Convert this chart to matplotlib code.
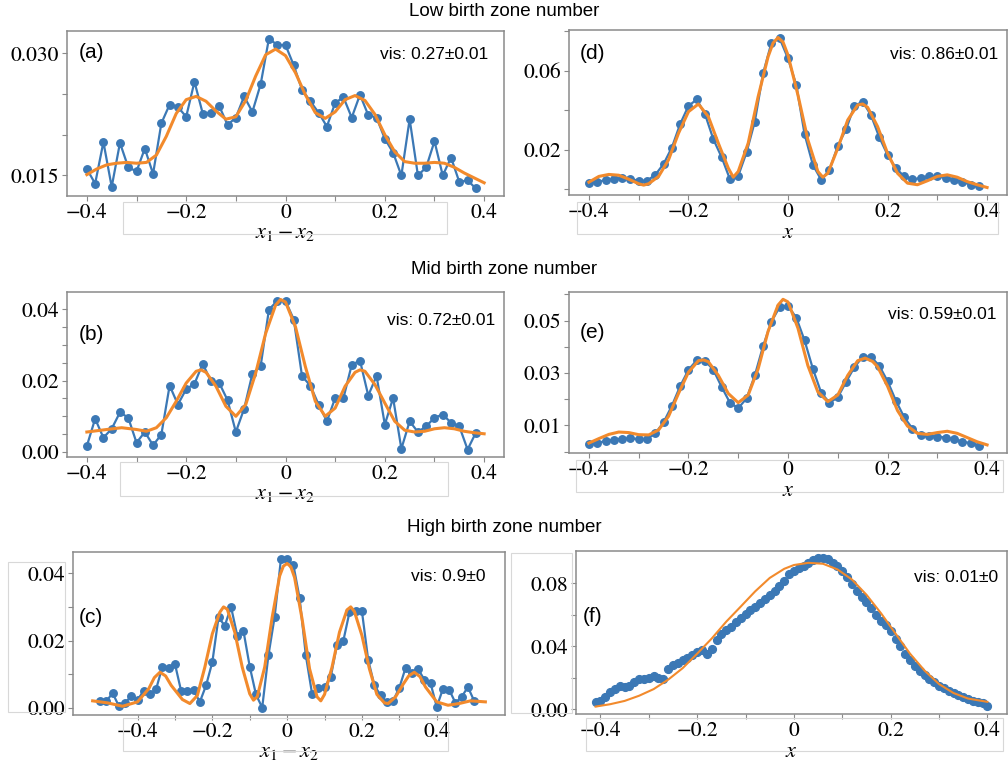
import numpy as np
import matplotlib
matplotlib.use('Agg')
import matplotlib.pyplot as plt
from matplotlib.patches import Rectangle
from matplotlib.ticker import FixedLocator, FixedFormatter

plt.rcParams['mathtext.fontset'] = 'stix'

W, H = 1008, 767

# measured points: x grid with 1/60 spacing
x_a = np.arange(48) / 60 - 0.4
y_a = [0.0158, 0.0140, 0.0191, 0.0136, 0.0190, 0.0160, 0.0155, 0.0183, 0.0152, 0.0214,
       0.0237, 0.0234, 0.0222, 0.0265, 0.0226, 0.0227, 0.0235, 0.0212, 0.0221, 0.0247,
       0.0228, 0.0262, 0.0318, 0.0310, 0.0310, 0.0285, 0.0255, 0.0241, 0.0227, 0.0210,
       0.0239, 0.0246, 0.0221, 0.0249, 0.0224, 0.0221, 0.0195, 0.0178, 0.0150, 0.0219,
       0.0150, 0.0160, 0.0192, 0.0150, 0.0172, 0.0142, 0.0144, 0.0134]
fx_a = [-0.40, -0.38, -0.36, -0.34, -0.32, -0.30, -0.28, -0.26, -0.24, -0.22, -0.20,
        -0.18, -0.16, -0.14, -0.12, -0.10, -0.08, -0.06, -0.04, -0.02, 0.00, 0.02, 0.04,
        0.06, 0.08, 0.10, 0.12, 0.14, 0.16, 0.18, 0.20, 0.22, 0.24, 0.26, 0.28, 0.30,
        0.32, 0.34, 0.36, 0.38, 0.40]
fy_a = [0.0151, 0.0158, 0.0163, 0.0165, 0.0166, 0.0165, 0.0166, 0.0175, 0.0198, 0.0226,
        0.0243, 0.0247, 0.0241, 0.0229, 0.0219, 0.0222, 0.0242, 0.0272, 0.0298, 0.0305,
        0.0297, 0.0276, 0.0249, 0.0227, 0.0220, 0.0228, 0.0243, 0.0248, 0.0242, 0.0225,
        0.0200, 0.0179, 0.0167, 0.0165, 0.0165, 0.0166, 0.0165, 0.0160, 0.0153, 0.0147,
        0.0141]

x_b = np.arange(48) / 60 - 0.4
y_b = [0.0017, 0.0093, 0.0040, 0.0065, 0.0111, 0.0096, 0.0026, 0.0056, 0.0019, 0.0049,
       0.0186, 0.0133, 0.0176, 0.0191, 0.0247, 0.0198, 0.0193, 0.0145, 0.0056, 0.0121,
       0.0219, 0.0241, 0.0399, 0.0423, 0.0423, 0.0371, 0.0212, 0.0186, 0.0133, 0.0086,
       0.0151, 0.0151, 0.0244, 0.0256, 0.0158, 0.0213, 0.0077, 0.0151, 0.0009, 0.0086,
       0.0056, 0.0072, 0.0096, 0.0105, 0.0082, 0.0072, 0.0007, 0.0054]
fx_b = [-0.40, -0.36, -0.33, -0.30, -0.28, -0.26, -0.24, -0.22, -0.20, -0.18, -0.17,
        -0.16, -0.14, -0.12, -0.10, -0.08, -0.06, -0.04, -0.02, -0.01, 0.00, 0.02, 0.04,
        0.06, 0.08, 0.10, 0.12, 0.14, 0.15, 0.16, 0.18, 0.20, 0.22, 0.24, 0.26, 0.28,
        0.30, 0.32, 0.34, 0.36, 0.38, 0.40]
fy_b = [0.0056, 0.0063, 0.0068, 0.0063, 0.0058, 0.0068, 0.0096, 0.0142, 0.0193, 0.0226,
        0.0230, 0.0223, 0.0184, 0.0128, 0.0100, 0.0133, 0.0221, 0.0332, 0.0411, 0.0427,
        0.0420, 0.0351, 0.0239, 0.0142, 0.0100, 0.0123, 0.0184, 0.0223, 0.0230, 0.0226,
        0.0189, 0.0137, 0.0086, 0.0061, 0.0056, 0.0058, 0.0065, 0.0068, 0.0065, 0.0058,
        0.0054, 0.0051]

x_c = np.arange(61) / 60 - 0.5
y_c = [0.0020, 0.0020, 0.0044, 0.0006, 0.0015, 0.0035, 0.0025, 0.0050, 0.0040, 0.0057,
       0.0123, 0.0119, 0.0131, 0.0050, 0.0050, 0.0052, 0.0018, 0.0067, 0.0136, 0.0269,
       0.0244, 0.0300, 0.0215, 0.0228, 0.0123, 0.0040, 0.0001, 0.0156, 0.0271, 0.0441,
       0.0441, 0.0425, 0.0326, 0.0156, 0.0042, 0.0060, 0.0062, 0.0092, 0.0188, 0.0198,
       0.0284, 0.0287, 0.0287, 0.0143, 0.0067, 0.0037, 0.0018, 0.0021, 0.0060, 0.0119,
       0.0103, 0.0116, 0.0084, 0.0074, 0.0003, 0.0057, 0.0054, 0.0015, 0.0033, 0.0062,
       0.0021]
fx_c = [-0.52, -0.48, -0.44, -0.40, -0.37, -0.355, -0.34, -0.325, -0.31, -0.28, -0.26,
        -0.24, -0.22, -0.20, -0.18, -0.17, -0.16, -0.14, -0.12, -0.10, -0.09, -0.08,
        -0.06, -0.04, -0.02, -0.01, 0.00, 0.01, 0.02, 0.04, 0.06, 0.08, 0.09, 0.10, 0.12,
        0.14, 0.16, 0.17, 0.18, 0.20, 0.22, 0.24, 0.26, 0.27, 0.29, 0.31, 0.325, 0.34,
        0.355, 0.37, 0.40, 0.43, 0.46, 0.49, 0.53]
fy_c = [0.0021, 0.0015, 0.0005, 0.0018, 0.0057, 0.0090, 0.0106, 0.0095, 0.0067, 0.0025,
        0.0013, 0.0037, 0.0121, 0.0220, 0.0284, 0.0300, 0.0293, 0.0225, 0.0121, 0.0042,
        0.0023, 0.0033, 0.0121, 0.0269, 0.0392, 0.0421, 0.0429, 0.0419, 0.0387, 0.0264,
        0.0116, 0.0033, 0.0021, 0.0040, 0.0121, 0.0225, 0.0291, 0.0300, 0.0286, 0.0215,
        0.0116, 0.0040, 0.0015, 0.0013, 0.0033, 0.0070, 0.0095, 0.0106, 0.0093, 0.0062,
        0.0018, 0.0008, 0.0013, 0.0021, 0.0018]

x_d = np.arange(48) / 60 - 0.4
y_d = [0.0032, 0.0039, 0.0047, 0.0054, 0.0057, 0.0052, 0.0045, 0.0044, 0.0074, 0.0129,
       0.0212, 0.0331, 0.0422, 0.0455, 0.0380, 0.0254, 0.0163, 0.0052, 0.0069, 0.0187,
       0.0343, 0.0587, 0.0741, 0.0763, 0.0662, 0.0528, 0.0279, 0.0124, 0.0049, 0.0099,
       0.0220, 0.0304, 0.0422, 0.0444, 0.0376, 0.0264, 0.0175, 0.0108, 0.0066, 0.0052,
       0.0057, 0.0069, 0.0066, 0.0059, 0.0049, 0.0039, 0.0024, 0.0020]
fx_d = [-0.40, -0.38, -0.36, -0.34, -0.32, -0.30, -0.29, -0.28, -0.26, -0.24, -0.22,
        -0.20, -0.18, -0.16, -0.14, -0.12, -0.11, -0.10, -0.08, -0.06, -0.04, -0.03,
        -0.02, -0.01, 0.00, 0.02, 0.04, 0.06, 0.07, 0.08, 0.10, 0.12, 0.14, 0.15, 0.16,
        0.18, 0.20, 0.22, 0.24, 0.26, 0.28, 0.30, 0.32, 0.34, 0.36, 0.38, 0.40]
fy_d = [0.0037, 0.0066, 0.0076, 0.0072, 0.0052, 0.0029, 0.0022, 0.0029, 0.0066, 0.0150,
        0.0284, 0.0393, 0.0432, 0.0368, 0.0234, 0.0108, 0.0062, 0.0091, 0.0234, 0.0469,
        0.0671, 0.0740, 0.0768, 0.0745, 0.0679, 0.0477, 0.0250, 0.0091, 0.0062, 0.0082,
        0.0208, 0.0351, 0.0427, 0.0432, 0.0415, 0.0318, 0.0183, 0.0082, 0.0032, 0.0024,
        0.0044, 0.0066, 0.0074, 0.0062, 0.0040, 0.0024, 0.0010]

x_e = np.arange(48) / 60 - 0.4
y_e = [0.0029, 0.0033, 0.0041, 0.0046, 0.0050, 0.0051, 0.0048, 0.0048, 0.0070, 0.0112,
       0.0175, 0.0250, 0.0312, 0.0349, 0.0347, 0.0312, 0.0247, 0.0187, 0.0166, 0.0203,
       0.0291, 0.0403, 0.0496, 0.0552, 0.0556, 0.0511, 0.0424, 0.0316, 0.0225, 0.0187,
       0.0207, 0.0266, 0.0322, 0.0362, 0.0362, 0.0328, 0.0269, 0.0195, 0.0132, 0.0088,
       0.0063, 0.0060, 0.0058, 0.0054, 0.0048, 0.0038, 0.0033, 0.0023]
fx_e = [-0.40, -0.38, -0.36, -0.34, -0.32, -0.30, -0.28, -0.26, -0.24, -0.22, -0.20,
        -0.18, -0.17, -0.16, -0.14, -0.12, -0.10, -0.08, -0.06, -0.04, -0.02, -0.01,
        0.00, 0.02, 0.04, 0.06, 0.08, 0.10, 0.12, 0.14, 0.155, 0.17, 0.18, 0.20, 0.22,
        0.24, 0.26, 0.28, 0.30, 0.32, 0.34, 0.36, 0.38, 0.40]
fy_e = [0.0033, 0.0050, 0.0066, 0.0075, 0.0073, 0.0065, 0.0064, 0.0083, 0.0135, 0.0222,
        0.0303, 0.0347, 0.0350, 0.0343, 0.0291, 0.0222, 0.0187, 0.0216, 0.0316, 0.0459,
        0.0559, 0.0581, 0.0571, 0.0471, 0.0328, 0.0228, 0.0191, 0.0216, 0.0291, 0.0347,
        0.0357, 0.0344, 0.0324, 0.0250, 0.0157, 0.0098, 0.0070, 0.0066, 0.0073, 0.0078,
        0.0070, 0.0054, 0.0038, 0.0026]

x_f = np.round(np.arange(-41, 41) / 100, 2)
y_f = [0.0047, 0.0053, 0.0075, 0.0107, 0.0128, 0.0145, 0.0143, 0.0150, 0.0175, 0.0193,
       0.0193, 0.0197, 0.0210, 0.0197, 0.0193, 0.0257, 0.0282, 0.0295, 0.0310, 0.0325,
       0.0342, 0.0364, 0.0374, 0.0353, 0.0385, 0.0439, 0.0475, 0.0503, 0.0524, 0.0556,
       0.0578, 0.0603, 0.0631, 0.0652, 0.0678, 0.0701, 0.0727, 0.0753, 0.0781, 0.0813,
       0.0856, 0.0877, 0.0894, 0.0909, 0.0930, 0.0945, 0.0958, 0.0958, 0.0952, 0.0930,
       0.0909, 0.0877, 0.0838, 0.0796, 0.0753, 0.0710, 0.0680, 0.0642, 0.0599, 0.0560,
       0.0535, 0.0496, 0.0449, 0.0402, 0.0353, 0.0310, 0.0274, 0.0246, 0.0218, 0.0193,
       0.0171, 0.0150, 0.0133, 0.0118, 0.0103, 0.0090, 0.0075, 0.0064, 0.0053, 0.0043,
       0.0039, 0.0021]
fx_f = [-0.41, -0.38, -0.35, -0.32, -0.29, -0.26, -0.23, -0.20, -0.17, -0.14, -0.11,
        -0.08, -0.05, -0.02, 0.00, 0.03, 0.06, 0.09, 0.12, 0.15, 0.18, 0.21, 0.24, 0.27,
        0.30, 0.33, 0.36, 0.40]
fy_f = [0.0017, 0.0032, 0.0053, 0.0086, 0.0128, 0.0188, 0.0261, 0.0353, 0.0449, 0.0556,
        0.0652, 0.0749, 0.0834, 0.0892, 0.0916, 0.0930, 0.0924, 0.0888, 0.0824, 0.0727,
        0.0610, 0.0481, 0.0353, 0.0246, 0.0160, 0.0103, 0.0068, 0.0047]

titles = ['Low birth zone number', 'Mid birth zone number', 'High birth zone number']
vis = {'a': 'vis: 0.27±0.01', 'b': 'vis: 0.72±0.01', 'c': 'vis: 0.9±0',
       'd': 'vis: 0.86±0.01', 'e': 'vis: 0.59±0.01', 'f': 'vis: 0.01±0'}

BLUE = '#3b78b5'
ORANGE = '#f28a2c'
GRAY = '#8a8a8a'

fig = plt.figure(figsize=(W / 100, H / 100), dpi=100)


def px_axes(l, r, t, b):
    return fig.add_axes([l / W, 1 - b / H, (r - l) / W, (b - t) / H])


def style(ax, xlabel, yticks, yminor, nd):
    for sp in ax.spines.values():
        sp.set_color(GRAY)
        sp.set_linewidth(1.1)
    ax.xaxis.set_major_locator(FixedLocator([-0.4, -0.2, 0, 0.2, 0.4]))
    ax.xaxis.set_major_formatter(FixedFormatter(['\u22120.4', '\u22120.2', '0', '0.2', '0.4']))
    ax.xaxis.set_minor_locator(FixedLocator([-0.3, -0.1, 0.1, 0.3]))
    ax.yaxis.set_major_locator(FixedLocator(yticks))
    ax.yaxis.set_major_formatter(FixedFormatter([f'{v:.{nd}f}' for v in yticks]))
    ax.yaxis.set_minor_locator(FixedLocator(yminor))
    ax.tick_params(which='both', direction='out', color=GRAY, width=0.8, length=3.5)
    ax.tick_params(which='both', labelsize=15.5, pad=2)
    for lab in ax.get_xticklabels() + ax.get_yticklabels():
        lab.set_family('STIXGeneral')
    ax.set_xlabel(xlabel, fontsize=16, labelpad=0)


panels = [
    ('a', (67, 504, 31, 196), x_a, y_a, fx_a, fy_a, r'$x_1 - x_2$', [0.015, 0.030], [0.020, 0.025], 3,
     (0.028, 0.87), (0.963, 0.86), 2.2),
    ('b', (67, 504, 292, 457), x_b, y_b, fx_b, fy_b, r'$x_1 - x_2$', [0.0, 0.02, 0.04],
     [0.005, 0.01, 0.015, 0.025, 0.03, 0.035], 2, (0.028, 0.74), (0.98, 0.83), 2.2),
    ('c', (73, 505, 552, 715), x_c, y_c, fx_c, fy_c, r'$x_1 - x_2$', [0.0, 0.02, 0.04], [0.01, 0.03], 2,
     (0.014, 0.60), (0.956, 0.85), 2.2),
    ('d', (569, 1007, 30, 195), x_d, y_d, fx_d, fy_d, r'$x$', [0.02, 0.06], [0.0, 0.04, 0.08], 2,
     (0.025, 0.86), (0.98, 0.85), 2.2),
    ('e', (569, 1007, 292, 453), x_e, y_e, fx_e, fy_e, r'$x$', [0.01, 0.03, 0.05], [0.0, 0.02, 0.04, 0.06], 2,
     (0.025, 0.75), (0.975, 0.86), 2.2),
    ('f', (576, 1007, 551, 714), x_f, y_f, fx_f, fy_f, r'$x$', [0.0, 0.04, 0.08], [0.02, 0.06], 2,
     (0.016, 0.60), (0.98, 0.84), 1.5),
]

for key, box, xs, ys, fxs, fys, xl, yt, ym, nd, lpos, vpos, flw in panels:
    ax = px_axes(*box)
    if key == 'f':
        ax.plot(xs, ys, 'o', color=BLUE, ms=5.6, zorder=2)
    else:
        ax.plot(xs, ys, '-o', color=BLUE, lw=1.6, ms=5.4, zorder=2)
    ax.plot(fxs, fys, '-', color=ORANGE, lw=flw, zorder=3)
    style(ax, xl, yt, ym, nd)
    ax.text(lpos[0], lpos[1], f'({key})', transform=ax.transAxes, fontsize=15,
            family='Liberation Sans', ha='left', va='center')
    ax.text(vpos[0], vpos[1], vis[key], transform=ax.transAxes, fontsize=12.5,
            family='Liberation Sans', ha='right', va='center')

for t, y in zip(titles, [12, 270, 528]):
    fig.text(504 / W, 1 - y / H, t, fontsize=13.5, family='Liberation Sans', ha='center', va='center')

# thin light frames around the tick-label strips
frames = [(123, 447, 202, 234), (577, 998, 202, 234), (120, 448, 462, 496), (576, 1003, 460, 492),
          (123, 448, 718, 751), (586, 1003, 718, 751), (8, 65, 562, 712), (511, 572, 553, 713)]
for l, r, t, b in frames:
    fig.patches.append(Rectangle((l / W, 1 - b / H), (r - l) / W, (b - t) / H, transform=fig.transFigure,
                                 fill=False, edgecolor='#d8d8d8', lw=0.8, zorder=0))

fig.savefig('out.png', dpi=100)
